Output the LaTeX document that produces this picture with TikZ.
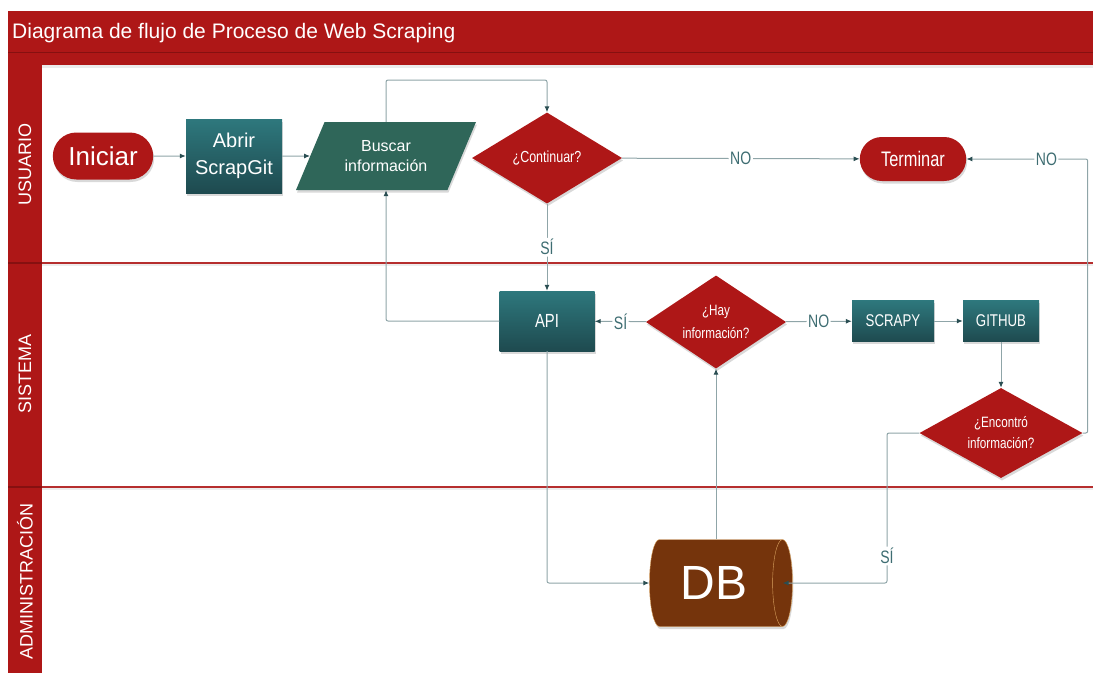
\documentclass[tikz,border=0pt]{standalone}
\usepackage{fontspec}
\setmainfont{Liberation Sans}
\newfontfamily\narrowfont[FakeStretch=0.78]{Liberation Sans}
\usetikzlibrary{shapes.geometric,shapes.misc,arrows.meta,shadows,positioning}

\definecolor{lanered}{HTML}{AE1717}
\definecolor{darkred}{HTML}{861010}
\definecolor{tealtop}{HTML}{2E787D}
\definecolor{tealbot}{HTML}{1E4A4F}
\definecolor{greenbox}{HTML}{2F6659}
\definecolor{dbbrown}{HTML}{75340C}
\definecolor{dbedge}{HTML}{D9A25F}
\definecolor{linegray}{HTML}{8FA5A8}
\definecolor{tipteal}{HTML}{2A4E52}
\definecolor{answercol}{HTML}{3E6D72}

\newcommand\fsz[2]{\fontsize{#1}{#2}\selectfont}

\tikzset{
  shade/.style={drop shadow={opacity=0.3,shadow xshift=1pt,shadow yshift=-2.5pt}},
  startstop/.style={rounded rectangle, fill=lanered, text=white, shade},
  process/.style={rectangle, top color=tealtop, bottom color=tealbot, text=white, inner sep=0pt, align=center, shade},
  io/.style={trapezium, trapezium left angle=66, trapezium right angle=114, trapezium stretches body,
    fill=greenbox, text=white, inner xsep=0pt, align=center, shade},
  decision/.style={diamond, aspect=1.5, fill=lanered, text=white, inner sep=0pt, align=center, shade},
  conn/.style={draw=linegray, line width=1pt, rounded corners=2pt, -{Latex[length=6pt,width=5pt,color=tipteal]}},
  answer/.style={fill=white, text=answercol, inner sep=1.5pt, font=\narrowfont\fsz{18}{20}}
}

\begin{document}
\begin{tikzpicture}[x=1pt,y=-1pt]
  \useasboundingbox (0,0) rectangle (1093,673);

  % Title bar
  \fill[black,opacity=0.08] (42,65) rectangle (1093,68);
  \fill[lanered] (8,11) rectangle (1093,65);
  \draw[darkred] (8,52) -- (1093,52);
  \node[anchor=base west, text=white, inner sep=0pt] (title) at (12,38) {\fsz{21}{24}Diagrama de flujo de Proceso de Web Scraping};

  % Lanes
  \fill[lanered] (8,65) rectangle (42,673);
  \foreach \y in {263,487} {
    \fill[black,opacity=0.07] (42,\y) rectangle (1093,\y+3);
    \draw[lanered!90!white, line width=1.2pt] (42,\y) -- (1093,\y);
    \draw[darkred, line width=2.5pt] (8,\y) -- (42,\y);
  }
  \node[rotate=90, text=white] (usuario) at (25,164) {\fsz{18}{20}USUARIO};
  \node[rotate=90, text=white] (sistema) at (25,374) {\fsz{18}{20}SISTEMA};
  \node[rotate=90, text=white] (admin) at (25,581) {\fsz{18}{20}ADMINISTRACIÓN};

  % Shapes
  \node[startstop, minimum width=107pt, minimum height=47pt, font=\fsz{26}{28}] (iniciar) at (103,156) {Iniciar};
  \node[process, minimum width=96pt, minimum height=74pt, font=\fsz{20}{27}] (abrir) at (234,156) {Abrir\\ScrapGit};
  \node[io, minimum width=180pt, minimum height=68pt, inner ysep=16.5pt, font=\fsz{16}{20}] (buscar) at (386,156) {Buscar\\información};
  \node[decision, minimum width=150pt, minimum height=91pt, font=\narrowfont\fsz{16}{20}] (continuar) at (547,158) {¿Continuar?};
  \node[startstop, minimum width=113pt, minimum height=44pt, font=\narrowfont\fsz{21}{24}] (terminar) at (913,159) {Terminar};
  \node[process, minimum width=95pt, minimum height=60pt, font=\narrowfont\fsz{19}{20}] (api) at (547,321) {API};
  \node[decision, minimum width=140pt, minimum height=93pt, font=\narrowfont\fsz{15}{23}] (hay) at (716,322) {¿Hay\\información?};
  \node[process, minimum width=82pt, minimum height=41pt, font=\narrowfont\fsz{17}{20}] (scrapy) at (893,321) {SCRAPY};
  \node[process, minimum width=76pt, minimum height=41pt, font=\narrowfont\fsz{17}{20}] (github) at (1001,321) {GITHUB};
  \node[decision, minimum width=163pt, minimum height=90pt, font=\narrowfont\fsz{15}{21}] (encontro) at (1001,433) {¿Encontró\\información?};
  \node[cylinder, aspect=0.5, minimum width=87pt, minimum height=143pt, fill=dbbrown, draw=dbedge,
    text=white, shade, font=\fsz{48}{50}] (db) at (714,583) {DB};

  \coordinate (loop) at (547,80);
  \coordinate (sibend) at (887,583);

  % Connectors
  \draw[conn] (iniciar) -- (abrir);
  \draw[conn] (abrir) -- (buscar);
  \draw[conn] (buscar.north) |- (loop) -- (continuar.north);
  \draw[conn] (continuar) -- node[answer]{NO} (terminar);
  \draw[conn] (continuar) -- node[answer]{SÍ} (api);
  \draw[conn] (api) -| (buscar.south);
  \draw[conn] (hay) -- node[answer]{SÍ} (api);
  \draw[conn] (hay) -- node[answer]{NO} (scrapy);
  \draw[conn] (scrapy) -- (github);
  \draw[conn] (github) -- (encontro);
  \draw[conn] (encontro.east) -- ++(5,0) |- node[answer,pos=0.67]{NO} (terminar);
  \draw[conn] (encontro.west) -| node[answer,pos=0.91]{SÍ} (sibend) -- ([xshift=-10pt]db.east);
  \draw[conn] (api) |- (db);
  \draw[conn] (db.north -| hay.south) -- (hay.south);
\end{tikzpicture}
\end{document}
